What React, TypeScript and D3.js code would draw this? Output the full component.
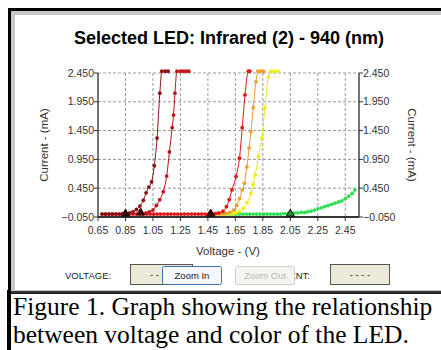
import React from "react";
import * as d3 from "d3";

// ---- data: [voltage (V), current (mA)] ----
const ir1Points: [number, number][] = [
  [0.68, 0.0], [0.705, 0.0], [0.73, 0.0], [0.755, 0.0], [0.78, 0.0], [0.805, 0.0],
  [0.83, 0.01], [0.855, 0.01], [0.88, 0.02], [0.905, 0.04], [0.93, 0.08], [0.955, 0.14],
  [0.98, 0.24], [1.0, 0.37], [1.02, 0.47], [1.04, 0.56], [1.06, 0.84], [1.08, 1.32],
  [1.1, 2.1], [1.115, 2.48], [1.14, 2.48], [1.16, 2.48],
];
const ir2Points: [number, number][] = [
  [1.0, 0.02], [1.025, 0.04], [1.05, 0.07], [1.075, 0.15], [1.1, 0.25], [1.125, 0.39],
  [1.15, 0.66], [1.17, 1.08], [1.19, 1.5], [1.2, 1.72], [1.21, 2.1], [1.225, 2.48],
  [1.25, 2.48], [1.27, 2.48], [1.29, 2.48], [1.31, 2.48],
];
const redPoints: [number, number][] = [
  [0.68, 0.0], [0.705, 0.0], [0.73, 0.0], [0.755, 0.0], [0.78, 0.0], [0.805, 0.0],
  [0.83, 0.0], [0.855, 0.0], [0.88, 0.0], [0.905, 0.0], [0.93, 0.0], [0.955, 0.0],
  [0.98, 0.0], [1.005, 0.0], [1.03, 0.0], [1.055, 0.0], [1.08, 0.0], [1.105, 0.0],
  [1.13, 0.0], [1.155, 0.0], [1.18, 0.0], [1.205, 0.0], [1.23, 0.0], [1.255, 0.0],
  [1.28, 0.0], [1.305, 0.0], [1.33, 0.0], [1.355, 0.0], [1.38, 0.0], [1.405, 0.0],
  [1.43, 0.0], [1.455, 0.0], [1.48, 0.01], [1.505, 0.01], [1.53, 0.02], [1.56, 0.05],
  [1.585, 0.13], [1.605, 0.25], [1.625, 0.42], [1.655, 0.65], [1.68, 0.97], [1.7, 1.5],
  [1.72, 2.07], [1.745, 2.48], [1.755, 2.48],
];
const orangePoints: [number, number][] = [
  [1.48, 0.0], [1.505, 0.0], [1.53, 0.0], [1.555, 0.01], [1.58, 0.01], [1.61, 0.03],
  [1.636, 0.07], [1.66, 0.15], [1.68, 0.27], [1.7, 0.42], [1.716, 0.535], [1.734, 0.82],
  [1.75, 1.15], [1.763, 1.43], [1.78, 1.85], [1.8, 2.3], [1.815, 2.48], [1.835, 2.48],
  [1.855, 2.48],
];
const yellowPoints: [number, number][] = [
  [1.53, 0.0], [1.555, 0.0], [1.58, 0.0], [1.605, 0.01], [1.63, 0.01], [1.655, 0.02],
  [1.68, 0.05], [1.709, 0.1], [1.735, 0.2], [1.763, 0.36], [1.78, 0.52], [1.794, 0.68],
  [1.818, 1.0], [1.843, 1.32], [1.865, 1.85], [1.89, 2.38], [1.91, 2.48], [1.935, 2.48],
  [1.96, 2.48],
];
const greenPoints: [number, number][] = [
  [1.53, 0.0], [1.555, 0.0], [1.58, 0.0], [1.605, 0.0], [1.63, 0.0], [1.655, 0.0],
  [1.68, 0.0], [1.705, 0.0], [1.73, 0.0], [1.755, 0.0], [1.78, 0.0], [1.805, 0.0],
  [1.83, 0.0], [1.855, 0.0], [1.88, 0.0], [1.905, 0.0], [1.93, 0.0], [1.955, 0.0],
  [1.98, 0.0], [2.005, 0.01], [2.03, 0.01], [2.055, 0.01], [2.08, 0.02], [2.105, 0.02],
  [2.13, 0.03], [2.155, 0.03], [2.175, 0.04], [2.2, 0.05], [2.225, 0.07], [2.25, 0.09],
  [2.275, 0.11], [2.3, 0.13], [2.325, 0.15], [2.35, 0.17], [2.375, 0.19], [2.4, 0.21],
  [2.425, 0.23], [2.45, 0.27], [2.475, 0.31], [2.5, 0.36], [2.52, 0.42],
];
const markerPoints: [number, number][] = [[0.85, 0.0], [0.96, 0.02], [1.47, 0.0], [2.05, 0.0]];

const xTicks = [0.65, 0.85, 1.05, 1.25, 1.45, 1.65, 1.85, 2.05, 2.25, 2.45];
const yTicks = [-0.05, 0.45, 0.95, 1.45, 1.95, 2.45];

const series = [
  { name: "Green", pts: greenPoints, line: "#44e060", dot: "#33dd55" },
  { name: "Yellow", pts: yellowPoints, line: "#e8e820", dot: "#eeee10" },
  { name: "Orange", pts: orangePoints, line: "#e89838", dot: "#f0a030" },
  { name: "Red", pts: redPoints, line: "#d81818", dot: "#e01818" },
  { name: "Infrared 2", pts: ir2Points, line: "#a81818", dot: "#c01818" },
  { name: "Infrared 1", pts: ir1Points, line: "#8a1414", dot: "#8a1010" },
];

const sans = "'Liberation Sans', Arial, sans-serif";

export default function App() {
  const x = d3.scaleLinear().domain([0.65, 2.55]).range([98, 359]);
  const y = d3.scaleLinear().domain([-0.05, 2.45]).range([217, 73]);
  const line = d3
    .line<[number, number]>()
    .x((d) => x(d[0]))
    .y((d) => y(d[1]))
    .curve(d3.curveMonotoneX);
  const [x0, x1] = x.range();
  const [yb, yt] = y.range();

  return (
    <svg
      width={441}
      height={350}
      style={{ position: "absolute", left: 0, top: 0, background: "#fff" }}
    >
      {/* frame */}
      <rect x={8} y={8} width={440} height={286} fill="#000" />
      <rect x={11} y={11} width={440} height={281} fill="#c8c8c8" />
      <rect x={15} y={15} width={440} height={275} fill="#fff" />
      <rect x={8} y={291} width={433} height={2.5} fill="#333" />
      <rect x={7} y={290} width={4} height={60} fill="#000" />

      <text x={229} y={44} textAnchor="middle" fontFamily={sans} fontWeight="bold" fontSize={18}>
        Selected LED: Infrared (2) - 940 (nm)
      </text>

      {/* grid */}
      {xTicks.slice(1).map((t) => (
        <line key={"gx" + t} x1={x(t)} x2={x(t)} y1={yt} y2={yb} stroke="#999" strokeDasharray="3,2" />
      ))}
      {yTicks.slice(1).map((t) => (
        <line key={"gy" + t} x1={x0} x2={x1} y1={y(t)} y2={y(t)} stroke="#999" strokeDasharray="3,2" />
      ))}

      {/* axes */}
      <line x1={x0} x2={x0} y1={yt} y2={yb} stroke="#444" strokeWidth={1.5} />
      <line x1={x1} x2={x1} y1={yt} y2={yb} stroke="#444" strokeWidth={1.5} />
      <line x1={x0} x2={x1} y1={yb} y2={yb} stroke="#333" strokeWidth={2} />
      {yTicks.map((t) => (
        <g key={"yt" + t} fontFamily={sans} fontSize={10.5} fill="#333">
          <line x1={x0 - 4} x2={x0} y1={y(t)} y2={y(t)} stroke="#333" />
          <line x1={x1} x2={x1 + 4} y1={y(t)} y2={y(t)} stroke="#333" />
          <text x={x0 - 4} y={y(t)} dy="0.35em" textAnchor="end">{d3.format(".3f")(t)}</text>
          <text x={x1 + 4} y={y(t)} dy="0.35em">{d3.format(".3f")(t)}</text>
        </g>
      ))}
      {xTicks.map((t) => (
        <g key={"xt" + t} fontFamily={sans} fontSize={10.5} fill="#333">
          <line x1={x(t)} x2={x(t)} y1={yb} y2={yb + 4} stroke="#333" />
          <text x={x(t)} y={yb + 17} textAnchor="middle">{d3.format(".2f")(t)}</text>
        </g>
      ))}
      <text
        transform={`translate(48,${(yt + yb) / 2}) rotate(-90)`}
        textAnchor="middle"
        fontFamily={sans}
        fontSize={11.5}
        fill="#333"
      >
        Current - (mA)
      </text>
      <text
        transform={`translate(408,${(yt + yb) / 2}) rotate(90)`}
        textAnchor="middle"
        fontFamily={sans}
        fontSize={11.5}
        fill="#333"
      >
        Current - (mA)
      </text>
      <text x={228} y={255} textAnchor="middle" fontFamily={sans} fontSize={11.5} fill="#333">
        Voltage - (V)
      </text>

      {/* series */}
      {series.map((s) => (
        <g key={s.name}>
          <path d={line(s.pts) || ""} fill="none" stroke={s.line} strokeWidth={1} />
          {s.pts.map((p, i) => (
            <circle key={i} cx={x(p[0])} cy={y(p[1])} r={1.9} fill={s.dot} />
          ))}
        </g>
      ))}
      {markerPoints.map((p, i) => {
        const cx = x(p[0]);
        const cy = y(p[1]) + 2;
        const last = i === markerPoints.length - 1;
        return (
          <path
            key={"m" + i}
            d={`M${cx - 4},${cy} L${cx + 4},${cy} L${cx},${cy - 7} Z`}
            fill={last ? "#2a8a3a" : "#3a0808"}
            stroke={last ? "#111" : "#2a0000"}
            strokeWidth={1}
          />
        );
      })}

      {/* controls */}
      <g fontFamily={sans} fontSize={9.5}>
        <text x={65} y={279} fill="#222">VOLTAGE:</text>
        <rect x={130.5} y={264.5} width={62} height={20} fill="#ece9d8" stroke="#555" />
        <text x={150} y={278} fill="#222">- -</text>
        <text x={310} y={279} textAnchor="end" fill="#222">ENT:</text>
        <rect x={330.5} y={264.5} width={59} height={20} fill="#ece9d8" stroke="#555" />
        <text x={360} y={278} textAnchor="middle" fill="#222">- - - -</text>
        <rect x={162.5} y={266.5} width={59} height={18} rx={2} fill="#f4f7fc" stroke="#3c6fb4" />
        <text x={192} y={279} textAnchor="middle" fill="#1a1a40">Zoom In</text>
        <rect x={235.5} y={266.5} width={59} height={18} rx={2} fill="#f4f4f0" stroke="#cfcfc8" />
        <text x={265} y={279} textAnchor="middle" fill="#b8b8b0">Zoom Out</text>
      </g>

      {/* caption */}
      <g fontFamily="'Liberation Serif', 'Times New Roman', serif" fontSize={25.5} fill="#000">
        <text x={13} y={315}>Figure 1. Graph showing the relationship</text>
        <text x={13} y={343}>between voltage and color of the LED.</text>
      </g>
    </svg>
  );
}
